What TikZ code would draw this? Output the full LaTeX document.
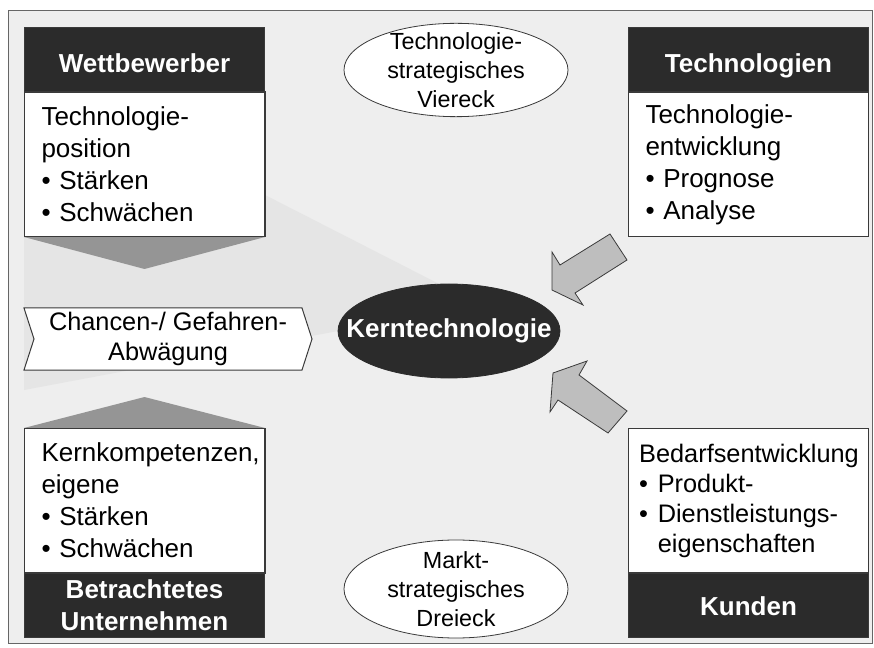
\documentclass[tikz,border=0pt]{standalone}
\usepackage{fontspec}
\setmainfont{Liberation Sans}
\usetikzlibrary{shapes.geometric,calc}
\definecolor{bg}{HTML}{EEEEEE}
\definecolor{wedge}{HTML}{E5E5E5}
\definecolor{hdr}{HTML}{2B2B2B}
\definecolor{edge}{HTML}{3A3A3A}
\definecolor{tri}{HTML}{959595}
\definecolor{blk}{HTML}{BEBEBE}
\definecolor{frame}{HTML}{666666}

\begin{document}
\begin{tikzpicture}[x=0.75pt,y=-0.75pt,
  hdrbox/.style={fill=hdr,draw=edge,line width=0.75pt,text=white,
    font=\bfseries\fontsize{19.5}{24}\selectfont,minimum width=180pt,
    minimum height=48pt,inner sep=0pt,align=center},
  bodybox/.style={fill=white,draw=edge,line width=0.75pt,
    font=\fontsize{19.5}{24}\selectfont,minimum width=180pt,
    minimum height=108pt,inner xsep=12.75pt,inner ysep=0pt,
    text width=154.5pt,align=left},
  oval/.style={ellipse,fill=white,draw=edge,line width=0.6pt,inner sep=0pt,
    minimum width=168pt},
  ovaltext/.style={font=\fontsize{17.5}{21.5}\selectfont,align=center,inner sep=0pt},
  kttext/.style={font=\bfseries\fontsize{19.5}{24}\selectfont,text=white,inner sep=0pt},
  triangle/.style={fill=tri},
  blockarrow/.style={fill=blk,draw=edge,line width=0.6pt,line join=miter},
  chevron/.style={fill=white,draw=edge,line width=0.75pt}
]
\useasboundingbox (0,0) rectangle (874,648);

% paper and frame
\fill[white] (0,0) rectangle (874,648);
\fill[bg] (8,11) rectangle (872,643);
\fill[wedge] (24,235) -- (265,195) -- (445,287) -- (338,331) -- (24,390) -- cycle;
\draw[frame,line width=0.75pt] (8,11) rectangle (872,643);

% competitor box (top left)
\node[hdrbox,anchor=north west,text height=19pt,text depth=0pt] (wh) at (24,27) {Wettbewerber};
\node[bodybox,anchor=north] (wb) at (wh.south) {Technologie-\\position\\• Stärken\\• Schwächen};
\fill[triangle] (wb.south west) -- (wb.south east) -- ($(wb.south)+(0,32)$) -- cycle;
\draw[edge,line width=0.75pt] (wb.north west) rectangle (wb.south east);

% technology box (top right)
\node[hdrbox,anchor=north west,text height=19pt,text depth=0pt] (th) at (628,27) {Technologien};
\node[bodybox,anchor=north] (tb) at (th.south) {Technologie-\\entwicklung\\• Prognose\\• Analyse};

% own company box (bottom left)
\node[bodybox,anchor=north west] (bb) at (24,428) {Kernkompetenzen,\\eigene\\• Stärken\\• Schwächen};
\node[hdrbox,anchor=north,font=\bfseries\fontsize{19.5}{23.75}\selectfont] (bh) at (bb.south) {Betrachtetes\\Unternehmen};
\fill[triangle] (bb.north west) -- (bb.north east) -- ($(bb.north)+(0,-31)$) -- cycle;
\draw[edge,line width=0.75pt] (bb.north west) rectangle (bb.south east);

% customer box (bottom right)
\node[bodybox,anchor=north west,font=\fontsize{19}{22.5}\selectfont,inner xsep=8pt,text width=164pt] (kb) at (628,428)
  {Bedarfsentwicklung\\\makebox[14pt][l]{•}Produkt-\\\makebox[14pt][l]{•}Dienstleistungs-\\\hspace*{14pt}eigenschaften};
\node[hdrbox,anchor=north,text height=15pt,text depth=0pt] (kh) at (kb.south) {Kunden};

% weighing of chances and risks
\draw[chevron] (24,308) -- (302,308) -- (312,339) -- (302,370) -- (24,370) -- (34,339) -- cycle;
\node[font=\fontsize{19}{22.5}\selectfont,align=center,inner sep=0pt] (cg) at (168,339) {Chancen-/ Gefahren-\\Abwägung};

% strategic ovals
\node[oval,minimum height=70pt] (tv) at (456,70) {};
\node[ovaltext] (tvt) at (tv.center) {Technologie-\\strategisches\\Viereck};
\node[oval,minimum height=73.5pt] (md) at (456,589) {};
\node[ovaltext] (mdt) at (md.center) {Markt-\\strategisches\\Dreieck};

% core technology
\node[oval,fill=hdr,draw=hdr,minimum width=166.5pt,minimum height=70.5pt] (kt) at (449,331) {};
\node[kttext] (ktt) at (kt.center) {Kerntechnologie};

% block arrows towards the core technology
\filldraw[blockarrow] (610,234) -- (560,265) -- (552,252) -- (552,290) -- (583,305) -- (575,293) -- (627,260) -- cycle;
\filldraw[blockarrow] (627,411) -- (579,375) -- (587,361) -- (553,373) -- (550,412) -- (558,400) -- (608,433) -- cycle;
\end{tikzpicture}
\end{document}
